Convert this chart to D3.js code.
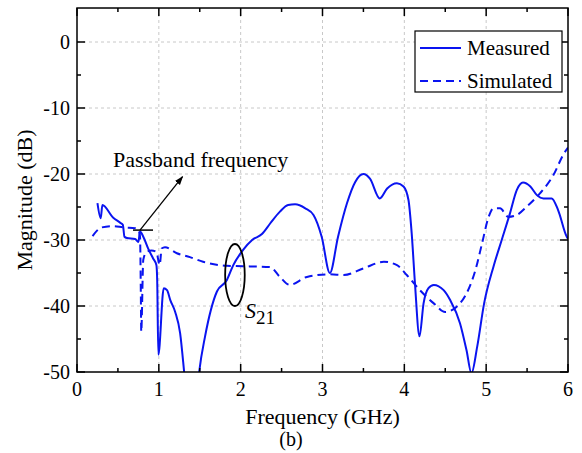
<!DOCTYPE html>
<html>
<head>
<meta charset="utf-8">
<script src="https://cdn.jsdelivr.net/npm/d3@7"></script>
<style>
  html, body { margin: 0; padding: 0; background: #fff; }
  svg { display: block; }
</style>
</head>
<body>
<svg id="chart" width="582" height="453"></svg>
<script>
// ---- data ----
const measuredFreq = [0.25,0.29,0.31,0.44,0.53,0.56,0.58,0.61,0.71,0.75,0.77,0.81,0.87,0.93,0.97,0.98,0.994,1.06,1.10,1.14,1.20,1.26,1.31,1.34,1.46,1.495,1.565,1.71,1.83,1.91,2.03,2.14,2.26,2.36,2.48,2.58,2.665,2.79,2.89,2.99,3.09,3.19,3.30,3.40,3.50,3.58,3.70,3.79,3.91,3.99,4.05,4.09,4.13,4.185,4.235,4.295,4.36,4.48,4.56,4.68,4.76,4.82,4.89,4.975,5.09,5.19,5.29,5.375,5.45,5.54,5.62,5.70,5.80,5.88,5.985,6.0];
const measuredDb   = [-24.4,-26.7,-24.7,-26.6,-27.4,-27.7,-29.5,-29.7,-29.85,-30.3,-28.7,-29.5,-31.3,-32.8,-33.8,-36.1,-47.4,-37.3,-37.6,-39.1,-40.9,-44.1,-50.1,-54,-54,-49.8,-44.6,-37.8,-36.1,-33.8,-31.5,-30.0,-29.1,-27.5,-25.7,-24.7,-24.6,-25.2,-26.2,-29.5,-35.0,-29.5,-24.4,-21.2,-20.0,-20.7,-23.7,-22.2,-21.4,-21.9,-23.9,-29.0,-36.6,-44.6,-39.6,-37.3,-36.8,-37.6,-39.1,-42.6,-46.7,-50.2,-46.2,-39.6,-34.0,-30.0,-26.0,-22.4,-21.3,-21.9,-23.2,-23.7,-23.7,-25.5,-29.5,-29.8];

const simulatedFreq = [0.19,0.30,0.44,0.57,0.71,0.75,0.77,0.78,0.785,0.81,0.85,0.91,0.97,1.01,1.035,1.075,1.22,1.38,1.54,1.83,2.11,2.36,2.48,2.60,2.81,3.09,3.26,3.50,3.75,3.91,4.03,4.19,4.36,4.50,4.64,4.76,4.87,4.95,5.03,5.09,5.17,5.27,5.375,5.50,5.66,5.82,5.95,6.0];
const simulatedDb   = [-29.4,-28.1,-27.9,-28.1,-28.2,-28.5,-29.5,-38,-43.9,-33.0,-31.8,-31.6,-31.8,-33.8,-31.3,-31.1,-32.0,-32.6,-33.3,-33.9,-34.0,-34.1,-35.6,-36.8,-35.6,-35.2,-35.3,-34.3,-33.3,-33.8,-35.3,-37.6,-39.6,-40.9,-40.1,-38.1,-34.5,-30.5,-26.5,-25.2,-25.2,-26.5,-26.2,-24.9,-22.9,-20.2,-16.9,-16.0];

const xTicks = [0,1,2,3,4,5,6];
const yTicks = [0,-10,-20,-30,-40,-50];
const seriesNames = ["Measured","Simulated"];

// ---- layout ----
const FONT = '"Liberation Serif"';
const svg = d3.select("#chart").style("font-family", FONT);
const txt = (sel) => sel.append("text").style("font-family", FONT).attr("fill","#000");
const x = d3.scaleLinear().domain([0,6]).range([77,568]);
const y = d3.scaleLinear().domain([-50,0]).range([372,42]);
const yTop = y(5.15);
const L = x(0), R = x(6), B = y(-50), T = yTop;
const blue = "#0a14f0";

// grid
const grid = svg.append("g");
xTicks.slice(1,-1).forEach(t => {
  grid.append("line").attr("x1",x(t)).attr("x2",x(t)).attr("y1",T).attr("y2",B)
    .attr("stroke","#c8c8c8").attr("stroke-width",1).attr("stroke-dasharray","3,3");
});
yTicks.slice(0,-1).forEach(t => {
  grid.append("line").attr("x1",L).attr("x2",R).attr("y1",y(t)).attr("y2",y(t))
    .attr("stroke","#c8c8c8").attr("stroke-width",1).attr("stroke-dasharray","3,3");
});

// clip
svg.append("clipPath").attr("id","clip").append("rect")
  .attr("x",L).attr("y",T).attr("width",R-L).attr("height",B-T);

const line = d3.line().x(d => x(d[0])).y(d => y(d[1])).curve(d3.curveMonotoneX);
const measured = measuredFreq.map((f,i) => [f, measuredDb[i]]);
const simulated = simulatedFreq.map((f,i) => [f, simulatedDb[i]]);

const plot = svg.append("g").attr("clip-path","url(#clip)");
plot.append("path").datum(simulated).attr("d",line)
  .attr("fill","none").attr("stroke",blue).attr("stroke-width",2).attr("stroke-dasharray","8,5");
plot.append("path").datum(measured).attr("d",line)
  .attr("fill","none").attr("stroke",blue).attr("stroke-width",2).attr("stroke-linejoin","round");

// axes with inward ticks
const axG = svg.append("g");
const xMinor = d3.range(0.5,6,1);
const yMinor = [-45,-35,-25,-15,-5];
const ax = (g) => g.attr("stroke","#000").attr("stroke-width",1.5);
xTicks.forEach(t => {
  ax(axG.append("line").attr("x1",x(t)).attr("x2",x(t)).attr("y1",B).attr("y2",B-8));
  ax(axG.append("line").attr("x1",x(t)).attr("x2",x(t)).attr("y1",T).attr("y2",T+8));
});
xMinor.forEach(t => {
  ax(axG.append("line").attr("x1",x(t)).attr("x2",x(t)).attr("y1",B).attr("y2",B-4));
  ax(axG.append("line").attr("x1",x(t)).attr("x2",x(t)).attr("y1",T).attr("y2",T+4));
});
yTicks.forEach(t => {
  ax(axG.append("line").attr("x1",L).attr("x2",L+8).attr("y1",y(t)).attr("y2",y(t)));
  ax(axG.append("line").attr("x1",R).attr("x2",R-8).attr("y1",y(t)).attr("y2",y(t)));
});
yMinor.forEach(t => {
  ax(axG.append("line").attr("x1",L).attr("x2",L+4).attr("y1",y(t)).attr("y2",y(t)));
  ax(axG.append("line").attr("x1",R).attr("x2",R-4).attr("y1",y(t)).attr("y2",y(t)));
});
axG.append("rect").attr("x",L).attr("y",T).attr("width",R-L).attr("height",B-T)
  .attr("fill","none").attr("stroke","#000").attr("stroke-width",1.5);

// tick labels
xTicks.forEach(t => {
  txt(svg).attr("x",x(t)).attr("y",B+24).attr("text-anchor","middle")
    .attr("font-size",20).text(t);
});
yTicks.forEach(t => {
  txt(svg).attr("x",L-7).attr("y",y(t)+7).attr("text-anchor","end")
    .attr("font-size",20).text(t === 0 ? "0" : "-" + Math.abs(t));
});

// axis titles
txt(svg).attr("x",(L+R)/2).attr("y",424).attr("text-anchor","middle")
  .attr("font-size",22).text("Frequency (GHz)");
txt(svg).attr("transform",`translate(32,${(T+B)/2 + 10}) rotate(-90)`)
  .attr("text-anchor","middle").attr("font-size",22).text("Magnitude (dB)");
txt(svg).attr("x",291).attr("y",446).attr("text-anchor","middle")
  .attr("font-size",20).text("(b)");

// legend
const lg = svg.append("g");
lg.append("rect").attr("x",415).attr("y",31).attr("width",147).attr("height",61)
  .attr("fill","#fff").attr("stroke","#000").attr("stroke-width",1.2);
seriesNames.forEach((name,i) => {
  const yy = 48 + i*33;
  lg.append("line").attr("x1",420).attr("x2",461).attr("y1",yy).attr("y2",yy)
    .attr("stroke",blue).attr("stroke-width",2)
    .attr("stroke-dasharray", i === 1 ? "8,5" : null);
  txt(lg).attr("x",467).attr("y",yy+7).attr("font-size",21).text(name);
});

// annotations
txt(svg).attr("x",113).attr("y",167).attr("font-size",22).text("Passband frequency");
const px = x(0.77), py = y(-28.5);
svg.append("line").attr("x1",px-7).attr("x2",px+13).attr("y1",py).attr("y2",py)
  .attr("stroke","#000").attr("stroke-width",1.5);
svg.append("defs").append("marker").attr("id","arr").attr("viewBox","0 0 10 10")
  .attr("refX",9).attr("refY",5).attr("markerWidth",7).attr("markerHeight",7)
  .attr("orient","auto").append("path").attr("d","M0,1.5 L10,5 L0,8.5 Z").attr("fill","#000");
svg.append("line").attr("x1",px).attr("y1",py).attr("x2",x(1.29)).attr("y2",y(-20.4))
  .attr("stroke","#000").attr("stroke-width",1.3).attr("marker-end","url(#arr)");

svg.append("ellipse").attr("cx",x(1.93)).attr("cy",y(-35.3)).attr("rx",9.8).attr("ry",31)
  .attr("fill","none").attr("stroke","#000").attr("stroke-width",1.8);
const s = txt(svg).attr("x",245).attr("y",318).attr("font-size",22);
s.append("tspan").attr("font-style","italic").text("S");
s.append("tspan").attr("dy",6).attr("font-size",19).text("21");
</script>
</body>
</html>
